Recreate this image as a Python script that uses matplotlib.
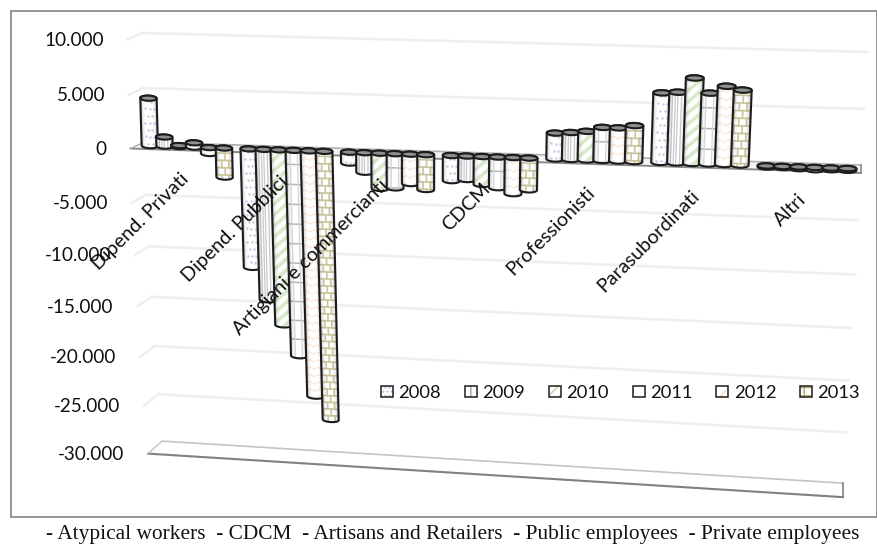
import numpy as np
import matplotlib
matplotlib.use('Agg')
import matplotlib.pyplot as plt
from matplotlib.patches import Polygon, Rectangle, Patch
from matplotlib.transforms import Transform
from matplotlib.legend_handler import HandlerPatch

W, H = 877, 544

# Data
categories = ['Dipend. Privati', 'Dipend. Pubblici', 'Artigiani e commercianti', 'CDCM',
              'Professionisti', 'Parasubordinati', 'Altri']
years = ['2008', '2009', '2010', '2011', '2012', '2013']
v2008 = [4400, -11200, -1000, -2300, 2350, 6250, -100]
v2009 = [850, -14300, -1800, -2150, 2450, 6350, -100]
v2010 = [100, -16700, -3250, -2550, 2600, 7650, -150]
v2011 = [400, -19700, -3150, -2800, 3000, 6350, -200]
v2012 = [-550, -23700, -2700, -3300, 3000, 7000, -150]
v2013 = [-2700, -26000, -3200, -2900, 3250, 6700, -150]
series = [v2008, v2009, v2010, v2011, v2012, v2013]
y_ticks = [10000, 5000, 0, -5000, -10000, -15000, -20000, -25000, -30000]
y_labels = ['10.000', '5.000', '0', '-5.000', '-10.000', '-15.000', '-20.000', '-25.000', '-30.000']
caption = '- Atypical workers  - CDCM  - Artisans and Retailers  - Public employees  - Private employees'


def curve(c):
    return 97.5 * c + 0.75 * c ** 2


# Perspective of the 3D chart: (category, value) -> axes fraction
class Tilt(Transform):
    input_dims = 2
    output_dims = 2

    def __init__(self, plane):
        super().__init__()
        self.plane = plane

    def transform_non_affine(self, pts):
        pts = np.asarray(pts, dtype=float)
        c, v = pts[:, 0], pts[:, 1] / 1000.0
        d = self.plane
        s = curve(c) / curve(7.0)
        xl = 144.5 - 0.35 * v + 0.0078 * v ** 2 - 14 * d
        yl = 142 - 10.67 * v - 0.0233 * v ** 2 + d * (6.5 + 0.2 * np.maximum(-v, 0))
        xr = 861 + 0.6 * v
        yr = 165 - 11.13 * v - 0.0175 * v ** 2 + d * (8 + 0.2 * np.maximum(-v, 0))
        px = (1 - s) * xl + s * xr
        py = (1 - s) * yl + s * yr
        return np.column_stack([px / W, 1 - py / H])


fig = plt.figure(figsize=(W / 100, H / 100), dpi=100)
ax = fig.add_axes([0, 0, 1, 1])
ax.set_xlim(0, 7)
ax.set_ylim(-33000, 12000)
ax.axis('off')

back = Tilt(0.0) + ax.transAxes
mid = Tilt(0.5) + ax.transAxes
front = Tilt(1.0) + ax.transAxes

# outer frame
ax.add_patch(Rectangle((10.5 / W, 1 - 517 / H), 866 / W, 506.5 / H, transform=ax.transAxes,
                       fc='white', ec='#8c8c8c', lw=1.3, zorder=0))

# gridlines with the short stub on the left
for tick, lab in zip(y_ticks, y_labels):
    if tick not in (0, -30000):
        ax.plot([0, 7], [tick, tick], color='#efefef', lw=1.9, zorder=1, transform=back)
        stub_x = front.transform([[0, tick]])[0]
        back_x = back.transform([[0, tick]])[0]
        ax.plot([stub_x[0] / W, back_x[0] / W], [stub_x[1] / H, back_x[1] / H],
                color='#efefef', lw=1.9, zorder=1, transform=ax.transAxes)
    pos = front.transform([[0, tick]])[0]
    ax.text((pos[0] - 24) / W, (pos[1] - 1) / H, lab, transform=ax.transAxes, ha='right', va='center',
            fontsize=13.6, family='Lato', color='#111111', zorder=6)

# zero band and floor
for tick, back_col, front_col, lw2 in [(0, '#b0b0b0', '#8a8a8a', 1.4), (-30000, '#c4c4c4', '#808080', 1.5)]:
    p_back = back.transform([[0, tick], [7, tick]])
    p_front = front.transform([[7, tick], [0, tick]])
    ax.add_patch(Polygon(np.vstack([p_back, p_front]) / [W, H], closed=True, transform=ax.transAxes,
                         fc='#f4f4f4' if tick == 0 else 'white', ec='none', zorder=1.5))
    ax.plot(p_back[:, 0] / W, p_back[:, 1] / H, color=back_col, lw=1.2, zorder=1.6, transform=ax.transAxes)
    ax.plot(p_front[:, 0] / W, p_front[:, 1] / H, color=front_col, lw=lw2, zorder=1.6, transform=ax.transAxes)
    ax.plot([p_back[0, 0] / W, p_front[1, 0] / W], [p_back[0, 1] / H, p_front[1, 1] / H],
            color=back_col, lw=1, zorder=1.6, transform=ax.transAxes)
    ax.plot([p_back[1, 0] / W, p_front[0, 0] / W], [p_back[1, 1] / H, p_front[0, 1] / H],
            color=front_col, lw=1.2, zorder=1.6, transform=ax.transAxes)

hw = 0.083
cap = 240
pitch = 0.150
px_v = 93.0  # value units for one pixel, roughly
edge = '#1c1c1c'


def add_pattern(kind, c, lo, hi, clip):
    lines = []
    if kind == 0:
        rows = np.arange(hi - 300, lo, -7 * px_v)
        for j, r in enumerate(rows):
            us = [-0.45, 0.1, 0.6] if j % 2 else [-0.15, 0.35]
            lines += ax.plot([c + u * hw for u in us], [r] * len(us), ls='', marker='s', ms=0.7,
                             color='#c8c8e6', zorder=3, transform=mid)
    elif kind == 1:
        for u in [-0.62, -0.3, -0.02, 0.4]:
            lines += ax.plot([c + u * hw] * 2, [lo - cap, hi + cap], color='#c8c8c8', lw=0.9,
                             zorder=3, transform=mid)
    elif kind == 2:
        for r in np.arange(lo - 20 * px_v, hi + 20 * px_v, 11 * px_v):
            lines += ax.plot([c - hw, c + hw], [r, r + 15 * px_v], color='#d9eacb', lw=2.6,
                             zorder=3, transform=mid)
    elif kind == 3:
        for r in np.arange(hi - 14 * px_v, lo - cap, -20 * px_v):
            lines += ax.plot([c - hw, c + hw], [r, r], color='#b4b4b4', lw=1.1, zorder=3, transform=mid)
        for u in [-0.45, 0.4]:
            lines += ax.plot([c + u * hw] * 2, [lo - cap, hi + cap], color='#d6d6d6', lw=0.9,
                             zorder=3, transform=mid)
    elif kind == 4:
        # zigzag rows
        us = np.linspace(-1, 1, 5)
        for r in np.arange(lo - cap, hi + cap, 8 * px_v):
            offs = np.array([0, 2.5, 0, 2.5, 0]) * px_v
            lines += ax.plot(c + us * hw, r + offs, color='#fbe8da', lw=0.9, zorder=3, transform=mid)
    else:
        rows = np.arange(hi - 5 * px_v, lo - cap, -7.3 * px_v)
        for j, r in enumerate(rows):
            lines += ax.plot([c - hw, c + hw], [r, r], color='#cbc59c', lw=1.2, zorder=3, transform=mid)
            us = [-0.3, 0.55] if j % 2 else [0.1, -0.85]
            for u in us:
                lines += ax.plot([c + u * hw] * 2, [r, r - 7.3 * px_v], color='#cbc59c', lw=1.2,
                                 zorder=3, transform=mid)
    for ln in lines:
        ln.set_clip_path(clip)


def draw_bar(c, val, kind):
    lo, hi = min(val, 0), max(val, 0)
    t = np.linspace(0, np.pi, 24)
    xs = np.r_[c + hw * np.cos(t), c - hw * np.cos(t)]
    ys = np.r_[hi + cap * np.sin(t), lo - cap * np.sin(t)]
    body = Polygon(np.column_stack([xs, ys]), closed=True, transform=mid, fc='white', ec='none', zorder=3)
    ax.add_patch(body)
    add_pattern(kind, c, lo, hi, body)
    # cylinder shading, strips going grey towards the sides
    for u0, u1, a in [(-1, -0.85, 0.38), (-0.85, -0.7, 0.17), (-0.7, -0.5, 0.06),
                      (0.5, 0.7, 0.06), (0.7, 0.85, 0.17), (0.85, 1, 0.38)]:
        strip = ax.fill([c + u0 * hw, c + u1 * hw, c + u1 * hw, c + u0 * hw],
                        [lo - cap, lo - cap, hi + cap, hi + cap],
                        color='#555555', alpha=a, lw=0, zorder=3, transform=mid)[0]
        strip.set_clip_path(body)
    ax.add_patch(Polygon(np.column_stack([xs, ys]), closed=True, transform=mid, fc='none', ec=edge,
                         lw=1.5, zorder=3))
    t2 = np.linspace(0, 2 * np.pi, 40)
    ax.add_patch(Polygon(np.column_stack([c + hw * np.cos(t2), hi + cap * np.sin(t2)]), closed=True,
                         transform=mid, fc='#8f8f8f', ec=edge, lw=1.5, zorder=3))


for k in range(len(categories)):
    for i, vals in enumerate(series):
        draw_bar(k + 0.5 + (i - 2.5) * pitch, vals[k], i)

# category labels
for k, name in enumerate(categories):
    pos = mid.transform([[k + 0.5, -2400]])[0]
    ax.text((pos[0] - 8) / W, (pos[1] + 3) / H, name, transform=ax.transAxes, rotation=45, rotation_mode='anchor',
            ha='right', va='top', fontsize=14.2, family='Lato', color='#111111', zorder=6)

ax.text(46 / W, 1 - 535 / H, caption, transform=ax.transAxes, ha='left', va='center',
        fontsize=15.4, family='Liberation Serif', color='#111111')


# legend swatches with a black outline over a coloured hatch
class OutlinedHandler(HandlerPatch):
    def create_artists(self, legend, orig, xd, yd, width, height, fontsize, trans):
        inner = Rectangle((-xd, -yd), width, height, fc='white', ec=orig.get_edgecolor(),
                          hatch=orig.get_hatch(), lw=0, transform=trans)
        outline = Rectangle((-xd, -yd), width, height, fc='none', ec=edge, lw=1.1, transform=trans)
        return [inner, outline]


hatch_styles = [('....', '#c0c0e0'), ('||', '#a0a0a0'), ('///', '#b4d69c'),
                ('', '#ffffff'), ('//', '#fbd9c0'), ('++', '#b0a860')]
handles = [Patch(fc='white', ec=col, hatch=h, label=y) for y, (h, col) in zip(years, hatch_styles)]
ax.legend(handles=handles, ncol=6, loc='center left', bbox_to_anchor=(381 / W, 1 - 393 / H),
          bbox_transform=ax.transAxes, frameon=False, borderpad=0, borderaxespad=0,
          prop={'family': 'Lato', 'size': 13.2}, handlelength=0.65, handleheight=0.62,
          handletextpad=0.3, columnspacing=1.3, labelcolor='#111111',
          handler_map={Patch: OutlinedHandler()})

fig.savefig('out.png', dpi=100)
